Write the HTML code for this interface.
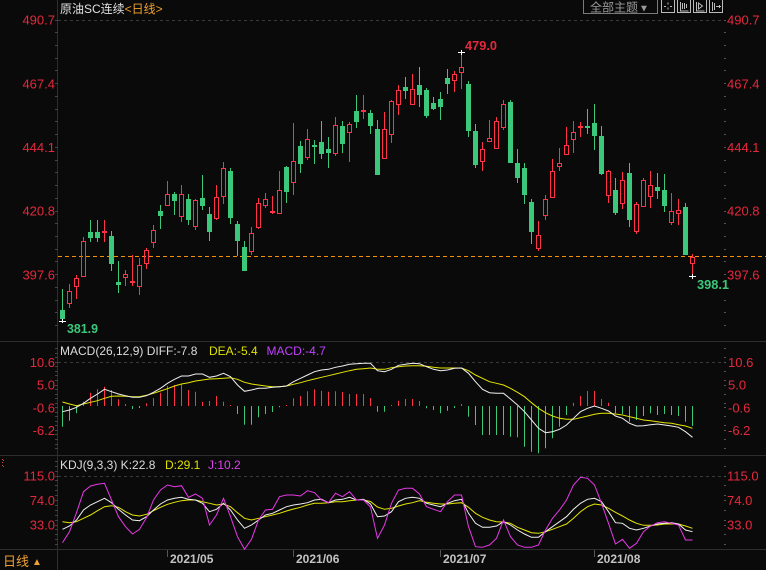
<!DOCTYPE html>
<html><head><meta charset="utf-8"><style>
html,body{margin:0;padding:0;background:#0a0a0a;}
svg{display:block;}
text{font-family:"Liberation Sans","Noto Sans CJK SC",sans-serif;}
</style></head><body>
<svg width="766" height="570" viewBox="0 0 766 570" xmlns="http://www.w3.org/2000/svg">
<rect width="766" height="570" fill="#0a0a0a"/>
<g stroke="#2e2e2e" stroke-width="1" fill="none">
<path d="M0 341.5H766M0 455.5H766M0 549.5H766"/>
<path d="M57.5 0V570"/>
</g>
<g stroke="#3a3a3a" stroke-dasharray="3,3" fill="none">
<path d="M58 20.5H723M58 362.5H723M58 476.5H723"/>
</g>
<g stroke="#444" fill="none">
<path d="M55 20.5h3M55 32.5h3M55 45.5h3M55 58.5h3M55 70.5h3M55 83.5h3M55 96.5h3M55 109.5h3M55 121.5h3M55 134.5h3M55 147.5h3M55 160.5h3M55 172.5h3M55 185.5h3M55 198.5h3M55 211.5h3M55 223.5h3M55 236.5h3M55 249.5h3M55 261.5h3M55 274.5h3M55 287.5h3M55 300.5h3M55 312.5h3M55 325.5h3"/>
<path d="M55 348.5h3M55 353.5h3M55 357.5h3M55 362.5h3M55 366.5h3M55 371.5h3M55 375.5h3M55 380.5h3M55 385.5h3M55 389.5h3M55 394.5h3M55 398.5h3M55 403.5h3M55 407.5h3M55 412.5h3M55 416.5h3M55 421.5h3M55 425.5h3M55 430.5h3M55 434.5h3M55 439.5h3M55 444.5h3M55 448.5h3"/>
<path d="M55 461.5h3M55 466.5h3M55 471.5h3M55 476.5h3M55 480.5h3M55 485.5h3M55 490.5h3M55 495.5h3M55 500.5h3M55 505.5h3M55 510.5h3M55 515.5h3M55 520.5h3M55 525.5h3M55 529.5h3M55 534.5h3M55 539.5h3M55 544.5h3"/>
</g>
<g stroke="#555" fill="none">
<path d="M724 20.5h2M724 32.5h2M724 45.5h2M724 58.5h2M724 70.5h2M724 83.5h2M724 96.5h2M724 109.5h2M724 121.5h2M724 134.5h2M724 147.5h2M724 160.5h2M724 172.5h2M724 185.5h2M724 198.5h2M724 211.5h2M724 223.5h2M724 236.5h2M724 249.5h2M724 261.5h2M724 274.5h2M724 287.5h2M724 300.5h2M724 312.5h2M724 325.5h2"/>
<path d="M724 348.5h2M724 357.5h2M724 362.5h2M724 371.5h2M724 380.5h2M724 385.5h2M724 394.5h2M724 403.5h2M724 407.5h2M724 416.5h2M724 425.5h2M724 430.5h2M724 439.5h2M724 448.5h2"/>
<path d="M724 466.5h2M724 476.5h2M724 485.5h2M724 495.5h2M724 500.5h2M724 510.5h2M724 520.5h2M724 525.5h2M724 534.5h2M724 544.5h2"/>
</g>

<text x="60" y="13" font-size="12" fill="#e0e0e0">原油SC连续<tspan fill="#f0a030">&lt;日线&gt;</tspan></text>

<rect x="583.5" y="-0.5" width="74" height="14" fill="none" stroke="#7a7a7a"/>
<text x="590" y="11.5" font-size="12" fill="#9a9a9a">全部主题</text>
<text x="639" y="11.5" font-size="10" fill="#9a9a9a">▼</text>
<g fill="none" stroke="#bbb">
<rect x="661.5" y="-0.5" width="13" height="13"/>
<rect x="677.5" y="-0.5" width="13" height="13"/>
<rect x="693.5" y="-0.5" width="13" height="13"/>
<rect x="709.5" y="-0.5" width="13" height="13"/>
<path d="M668 2.5v2M668 7.5v2M664 6.5h2M670 6.5h2M680.5 2v9h8M682.5 3v6M684.5 3v6M686.5 4v4M696.5 2v9h8M698.5 3v6l4 -3z M712.5 2v9M714.5 3v7M716 6.5h5M719.5 5v3"/>
</g>

<g font-size="13" fill="#e6283c">
<text x="55" y="24.6" text-anchor="end">490.7</text>
<text x="55" y="88.3" text-anchor="end">467.4</text>
<text x="55" y="152" text-anchor="end">444.1</text>
<text x="55" y="215.7" text-anchor="end">420.8</text>
<text x="55" y="279.4" text-anchor="end">397.6</text>
<text x="727" y="24.6">490.7</text>
<text x="727" y="88.3">467.4</text>
<text x="727" y="152">444.1</text>
<text x="727" y="215.7">420.8</text>
<text x="727" y="279.4">397.6</text>
<text x="55" y="367" text-anchor="end">10.6</text>
<text x="55" y="389.7" text-anchor="end">5.0</text>
<text x="55" y="412.4" text-anchor="end">-0.6</text>
<text x="55" y="435" text-anchor="end">-6.2</text>
<text x="728" y="367">10.6</text>
<text x="728" y="389.7">5.0</text>
<text x="728" y="412.4">-0.6</text>
<text x="728" y="435">-6.2</text>
<text x="55" y="480.6" text-anchor="end">115.0</text>
<text x="55" y="505" text-anchor="end">74.0</text>
<text x="55" y="529.6" text-anchor="end">33.0</text>
<text x="727" y="480.6">115.0</text>
<text x="727" y="505">74.0</text>
<text x="727" y="529.6">33.0</text>
</g>

<path d="M58 256.5H766" stroke="#f5900a" stroke-dasharray="4,3" fill="none"/>

<g stroke="#3cc87a" fill="none">
<path d="M62.5 289V321M90.5 220V242M97.5 220V242M111.5 231V271M118.5 261V293M160.5 205V229M174.5 192V215M188.5 194V225M202.5 175V210M209.5 207V241M230.5 168V224M237.5 221V256M244.5 241V271M286.5 166V203M300.5 141V173M314.5 140V164M321.5 121V159M328.5 137V168M342.5 121V153M356.5 95V128M370.5 110V134M377.5 120V175M405.5 77V99M419.5 67V107M426.5 88V118M433.5 97V110M440.5 92V120M447.5 69V94M468.5 81V137M475.5 124V168M510.5 100V163M517.5 149V183M524.5 163V204M531.5 199V244M587.5 109V134M594.5 104V150M601.5 126V175M615.5 178V215M629.5 163V227M657.5 173V199M664.5 174V212M685.5 203V255"/>
</g>
<g fill="#3cc87a">
<rect x="60" y="310" width="5" height="9"/>
<rect x="88" y="232" width="5" height="6"/>
<rect x="95" y="232" width="5" height="6"/>
<rect x="109" y="236" width="5" height="28"/>
<rect x="116" y="282" width="5" height="3"/>
<rect x="158" y="211" width="5" height="5"/>
<rect x="172" y="194" width="5" height="7"/>
<rect x="186" y="199" width="5" height="21"/>
<rect x="200" y="198" width="5" height="8"/>
<rect x="207" y="214" width="5" height="18"/>
<rect x="228" y="171" width="5" height="47"/>
<rect x="235" y="224" width="5" height="17"/>
<rect x="242" y="247" width="5" height="24"/>
<rect x="284" y="167" width="5" height="25"/>
<rect x="298" y="146" width="5" height="18"/>
<rect x="312" y="145" width="5" height="2"/>
<rect x="319" y="142" width="5" height="12"/>
<rect x="326" y="149" width="5" height="4"/>
<rect x="340" y="126" width="5" height="18"/>
<rect x="354" y="111" width="5" height="11"/>
<rect x="368" y="113" width="5" height="13"/>
<rect x="375" y="129" width="5" height="46"/>
<rect x="403" y="87" width="5" height="4"/>
<rect x="417" y="85" width="5" height="10"/>
<rect x="424" y="90" width="5" height="26"/>
<rect x="431" y="103" width="5" height="6"/>
<rect x="438" y="99" width="5" height="8"/>
<rect x="445" y="78" width="5" height="6"/>
<rect x="466" y="84" width="5" height="47"/>
<rect x="473" y="131" width="5" height="34"/>
<rect x="508" y="102" width="5" height="61"/>
<rect x="515" y="163" width="5" height="15"/>
<rect x="522" y="168" width="5" height="27"/>
<rect x="529" y="202" width="5" height="30"/>
<rect x="585" y="126" width="5" height="2"/>
<rect x="592" y="123" width="5" height="13"/>
<rect x="599" y="136" width="5" height="38"/>
<rect x="613" y="190" width="5" height="23"/>
<rect x="627" y="173" width="5" height="47"/>
<rect x="655" y="187" width="5" height="4"/>
<rect x="662" y="190" width="5" height="16"/>
<rect x="683" y="207" width="5" height="48"/>
</g>

<g stroke="#ff3246" fill="none">
<path d="M69.5 284V291M69.5 304V308M76.5 275V278M76.5 287V299M83.5 237V241M104.5 220V242M125.5 270V274M125.5 278V286M132.5 255V286M139.5 258V265M139.5 287V295M146.5 248V250M146.5 264V269M153.5 225V230M153.5 243V248M167.5 181V194M181.5 185V194M181.5 217V222M195.5 199V200M195.5 227V230M216.5 185V197M216.5 219V220M223.5 162V168M223.5 197V204M251.5 227V233M251.5 252V255M258.5 198V203M258.5 228V229M265.5 193V199M265.5 206V208M272.5 196V214M279.5 171V190M293.5 123V161M293.5 183V195M307.5 129V139M307.5 158V160M335.5 117V125M335.5 154V156M349.5 122V124M349.5 133V162M363.5 95V119M384.5 112V129M391.5 100V101M391.5 135V143M398.5 85V90M398.5 105V115M412.5 74V89M454.5 71V74M454.5 81V92M461.5 52V67M461.5 73V89M482.5 142V149M482.5 162V171M489.5 120V138M496.5 117V121M503.5 100V104M503.5 128V130M538.5 221V235M538.5 249V251M545.5 195V199M545.5 216V220M552.5 159V171M559.5 148V163M559.5 167V171M566.5 127V145M573.5 121V132M573.5 140V153M580.5 122V137M608.5 170V171M608.5 196V203M622.5 172V180M622.5 204V209M636.5 202V204M636.5 232V234M643.5 178V180M650.5 171V185M650.5 197V208M671.5 193V211M671.5 223V225M678.5 199V210M678.5 214V225M692.5 254V257M692.5 264V276"/>
<rect x="67.5" y="291.5" width="4" height="12"/>
<rect x="74.5" y="278.5" width="4" height="8"/>
<rect x="81.5" y="241.5" width="4" height="35"/>
<rect x="123.5" y="274.5" width="4" height="3"/>
<rect x="137.5" y="265.5" width="4" height="21"/>
<rect x="144.5" y="250.5" width="4" height="13"/>
<rect x="151.5" y="230.5" width="4" height="12"/>
<rect x="165.5" y="194.5" width="4" height="11"/>
<rect x="179.5" y="194.5" width="4" height="22"/>
<rect x="193.5" y="200.5" width="4" height="26"/>
<rect x="214.5" y="197.5" width="4" height="21"/>
<rect x="221.5" y="168.5" width="4" height="28"/>
<rect x="249.5" y="233.5" width="4" height="18"/>
<rect x="256.5" y="203.5" width="4" height="24"/>
<rect x="263.5" y="199.5" width="4" height="6"/>
<rect x="277.5" y="190.5" width="4" height="23"/>
<rect x="291.5" y="161.5" width="4" height="21"/>
<rect x="305.5" y="139.5" width="4" height="18"/>
<rect x="333.5" y="125.5" width="4" height="28"/>
<rect x="347.5" y="124.5" width="4" height="8"/>
<rect x="382.5" y="129.5" width="4" height="29"/>
<rect x="389.5" y="101.5" width="4" height="33"/>
<rect x="396.5" y="90.5" width="4" height="14"/>
<rect x="410.5" y="89.5" width="4" height="15"/>
<rect x="452.5" y="74.5" width="4" height="6"/>
<rect x="459.5" y="67.5" width="4" height="5"/>
<rect x="480.5" y="149.5" width="4" height="12"/>
<rect x="487.5" y="138.5" width="4" height="3"/>
<rect x="494.5" y="121.5" width="4" height="27"/>
<rect x="501.5" y="104.5" width="4" height="23"/>
<rect x="536.5" y="235.5" width="4" height="13"/>
<rect x="543.5" y="199.5" width="4" height="16"/>
<rect x="550.5" y="171.5" width="4" height="26"/>
<rect x="557.5" y="163.5" width="4" height="3"/>
<rect x="564.5" y="145.5" width="4" height="9"/>
<rect x="571.5" y="132.5" width="4" height="7"/>
<rect x="606.5" y="171.5" width="4" height="24"/>
<rect x="620.5" y="180.5" width="4" height="23"/>
<rect x="634.5" y="204.5" width="4" height="27"/>
<rect x="641.5" y="180.5" width="4" height="26"/>
<rect x="648.5" y="185.5" width="4" height="11"/>
<rect x="669.5" y="211.5" width="4" height="11"/>
<rect x="676.5" y="210.5" width="4" height="3"/>
<rect x="690.5" y="257.5" width="4" height="6"/>
</g>
<g fill="#ff3246">
<rect x="102" y="231" width="5" height="2"/>
<rect x="130" y="281" width="5" height="2"/>
<rect x="270" y="211" width="5" height="2"/>
<rect x="361" y="110" width="5" height="2"/>
<rect x="578" y="126" width="5" height="2"/>
</g>

<g stroke="#ffffff" fill="none">
<path d="M59 321.5h7M62.5 319v4M458 52.5h7M461.5 50v5M689 276.5h7M692.5 274v5"/>
</g>
<text x="465" y="50" font-size="13" font-weight="bold" fill="#e6283c" textLength="32" lengthAdjust="spacingAndGlyphs">479.0</text>
<text x="697" y="289" font-size="13" font-weight="bold" fill="#3cc87a" textLength="32" lengthAdjust="spacingAndGlyphs">398.1</text>
<text x="67" y="333" font-size="13" font-weight="bold" fill="#3cc87a" textLength="31" lengthAdjust="spacingAndGlyphs">381.9</text>

<text x="60" y="355" font-size="12" fill="#dcdcdc">MACD(26,12,9) DIFF:-7.8 <tspan x="209" fill="#e0e000">DEA:-5.4</tspan><tspan x="266.5" fill="#c040ff">MACD:-4.7</tspan></text>

<g transform="translate(62.5 0) scale(7 1)" fill="none">
<path vector-effect="non-scaling-stroke" stroke="#ff3246" stroke-width="1" d="M3 401.7V406M4 392.7V406M5 389.3V406M6 386.7V406M7 390V406M8 399.3V406M9 404V406M12 403.3V406M13 398.3V406M14 392.7V406M15 386V406M16 385V406M17 384.3V406M18 390V406M19 391.7V406M20 401.7V406M21 401V406M22 396V406M23 401.7V406M24 405V406M32 405V406M33 398.3V406M34 396V406M35 391.3V406M36 389.3V406M37 390.7V406M38 391.7V406M39 391.3V406M40 392V406M41 394V406M42 394V406M43 394V406M44 398V406M47 405V406M48 400.7V406M49 399V406M50 399V406M51 401V406M57 404V406M73 402.7V406M74 396V406M75 391V406M76 391V406M77 399V406M78 402.7V406"/>
<path vector-effect="non-scaling-stroke" stroke="#3cc87a" stroke-width="1" d="M0 406V426.7M1 406V420.7M2 406V413.3M10 406V409M11 406V408M25 406V414M26 406V424.7M27 406V424.7M28 406V417.3M29 406V414M30 406V412M31 406V407.3M45 406V411.7M46 406V411.7M52 406V408.3M53 406V410M54 406V413.3M55 406V410.7M56 406V408M58 406V416.7M59 406V425M60 406V435M61 406V435M62 406V435M63 406V435M64 406V436.7M65 406V437.3M66 406V446.7M67 406V451.7M68 406V453.3M69 406V448.3M70 406V438.3M71 406V426.7M72 406V415M79 406V413.3M80 406V414M81 406V421.7M82 406V420M83 406V416M84 406V413.3M85 406V415M86 406V414M87 406V415M88 406V416M89 406V421.7M90 406V426"/>
<polyline vector-effect="non-scaling-stroke" stroke="#e6e600" stroke-width="1" points="0,402 1,404 2,405.7 3,404 4,402.3 5,400.7 6,398.3 7,396.3 8,396 9,396.3 10,396.7 11,396.7 12,395.3 13,393.3 14,391 15,388.7 16,386 17,384 18,382.7 19,381 20,380 21,379 22,378.7 23,378.3 24,377.7 25,379.3 26,382.3 27,384 28,385 29,386 30,386.7 31,386.7 32,386 33,384.3 34,382.7 35,380.7 36,379 37,377.3 38,375.7 39,374 40,372.3 41,370.7 42,369.3 43,368.7 44,368 45,369.3 46,369.3 47,367.7 48,366.7 49,366 50,365.7 51,365.7 52,366.3 53,367.3 54,368 55,368 56,368 57,368 58,370.7 59,375 60,378.3 61,381.7 62,383.3 63,385 64,388.3 65,392.3 66,396.7 67,402.7 68,408.3 69,412.7 70,416 71,418.3 72,419.3 73,419.3 74,417.7 75,416 76,414.3 77,413.3 78,413.3 79,414 80,415 81,416.7 82,418.3 83,420 84,420.7 85,421.7 86,422.7 87,423.3 88,424.7 89,426 90,428.3"/>
<polyline vector-effect="non-scaling-stroke" stroke="#f0f0f0" stroke-width="1" points="0,411.7 1,410 2,407.3 3,403.3 4,398.3 5,394 6,389.3 7,391.7 8,394 9,395.7 10,397.3 11,397.3 12,395.7 13,392.3 14,388.3 15,383.3 16,379.3 17,376 18,376 19,374 20,374 21,377.3 22,376 23,373.3 24,376.7 25,385 26,391.3 27,390 28,388.3 29,388.3 30,387.3 31,386.7 32,386 33,381.7 34,378.3 35,375 36,371.7 37,370 38,369.3 39,367.3 40,366 41,364.3 42,363.7 43,363.3 44,363.3 45,370.7 46,371.7 47,369.3 48,365.3 49,364.3 50,363.3 51,363.7 52,366.7 53,369.3 54,370.7 55,370 56,368.3 57,368 58,373.3 59,381.7 60,389.3 61,392.7 62,393.3 63,393.3 64,399 65,405 66,411.7 67,420 68,428.3 69,432.7 70,431.7 71,429.3 72,425 73,418.3 74,411.7 75,408.3 76,406 77,408.3 78,411 79,416 80,418.3 81,423.3 82,426 83,425.7 84,424.7 85,424 86,425 87,426 88,427.3 89,431.7 90,437.3"/>
</g>

<g fill="#d04040"><rect x="2" y="459" width="1" height="1"/><rect x="2" y="462" width="1" height="1"/><rect x="2" y="465" width="1" height="1"/><rect x="3" y="460" width="1" height="1"/><rect x="3" y="466" width="1" height="1"/></g>
<text x="60" y="469" font-size="12" fill="#dcdcdc">KDJ(9,3,3) K:22.8 <tspan x="165" fill="#e0e000">D:29.1</tspan><tspan x="208" fill="#e040f0">J:10.2</tspan></text>

<g transform="translate(62.5 0) scale(7 1)" fill="none">
<polyline vector-effect="non-scaling-stroke" stroke="#e6e600" stroke-width="1" points="0,521.7 1,522.7 2,521.7 3,518.3 4,515 5,510.7 6,506.7 7,505.7 8,507.3 9,511.7 10,515 11,516 12,514.3 13,510.7 14,507.3 15,504.3 16,502.3 17,500.7 18,500 19,500 20,501.7 21,503.3 22,505 23,504 24,506.7 25,512.7 26,518.3 27,520 28,518.3 29,516.7 30,515 31,513.3 32,511 33,509 34,507.3 35,505 36,503.3 37,503.3 38,502.7 39,501.7 40,501.7 41,500.7 42,500 43,500 44,501.5 45,507 46,509.3 47,508.3 48,506 49,504 50,502.7 51,500.7 52,502.3 53,503.3 54,504 55,504 56,503.3 57,502.7 58,507.3 59,513.3 60,517.3 61,520 62,521.7 63,522 64,523.3 65,527.3 66,530 67,532.7 68,533.3 69,531.7 70,529.3 71,526.7 72,524 73,518.3 74,511.7 75,506.7 76,504 77,505 78,508.3 79,512.3 80,516 81,520 82,523.3 83,525.3 84,525.3 85,525 86,524 87,524 88,524 89,526 90,528.3"/>
<polyline vector-effect="non-scaling-stroke" stroke="#f0f0f0" stroke-width="1" points="0,529.3 1,526 2,520 3,510 4,505 5,501.7 6,498.3 7,502.7 8,509.3 9,515 10,520 11,520.7 12,516.7 13,510 14,504 15,500 16,498.3 17,497.3 18,499.3 19,500 20,503.3 21,511.7 22,509.3 23,503.3 24,510 25,520 26,528.3 27,525 28,520 29,515 30,513.3 31,510 32,506.7 33,505 34,504 35,502.7 36,500 37,499.3 38,502.7 39,500 40,499.3 41,497.3 42,500 43,499.3 44,504 45,516.7 46,516 47,511.7 48,501.7 49,498.3 50,497.3 51,498.3 52,503.3 53,505 54,506.7 55,503.3 56,500.7 57,499.3 58,513.3 59,523.3 60,527.3 61,527.3 62,526 63,521.7 64,525 65,530 66,534 67,537.3 68,537.3 69,531.7 70,526.7 71,521.7 72,516.7 73,509.3 74,503.3 75,499.3 76,498.3 77,501.7 78,511.7 79,522.7 80,523.3 81,528.3 82,530 83,528.3 84,526 85,524 86,523.3 87,522.7 88,524 89,530 90,531.7"/>
<polyline vector-effect="non-scaling-stroke" stroke="#e838e8" stroke-width="1" points="0,542.7 1,531.7 2,512.7 3,491.7 4,486 5,484.3 6,483.3 7,500 8,516.7 9,526.7 10,534 11,529.3 12,517.7 13,500 14,490 15,485 16,486.7 17,485.7 18,497.3 19,494 20,498.3 21,525 22,515 23,498.3 24,516.7 25,536.7 26,549.3 27,539.3 28,520 29,510 30,509.3 31,496.7 32,495 33,495 34,496 35,490.7 36,492.7 37,500 38,502.7 39,493.3 40,496.7 41,491.7 42,500 43,500 44,507 45,538.3 46,525 47,503.3 48,490 49,488.3 50,488.3 51,494 52,506.7 53,509.3 54,511.7 55,501.7 56,495 57,495 58,526.7 59,546.7 60,547.3 61,545 62,538.3 63,520 64,536.7 65,545 66,547.3 67,547.3 68,545 69,530 70,518.3 71,510 72,500 73,485 74,477.3 75,478.3 76,485 77,503.3 78,523.3 79,544 80,539.3 81,548.3 82,543.3 83,531.7 84,526 85,522.7 86,521.7 87,523.3 88,525 89,540 90,540"/>
</g>

<g stroke="#555" fill="none"><path d="M167.5 550V557M293.5 550V557M440.5 550V557M594.5 550V557"/></g>
<g font-size="12" font-weight="bold" fill="#c4c4c4">
<text x="170" y="563">2021/05</text>
<text x="296" y="563">2021/06</text>
<text x="443" y="563">2021/07</text>
<text x="597" y="563">2021/08</text>
</g>
<text x="3" y="566" font-size="13" fill="#f0a030">日线</text>
<text x="32" y="565" font-size="10" fill="#f0a030">▲</text>
</svg>
</body></html>
